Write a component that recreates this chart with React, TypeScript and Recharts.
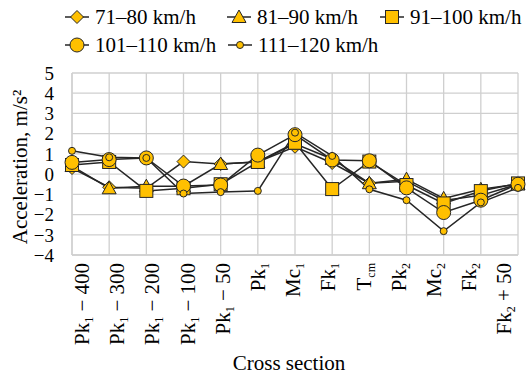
import React from 'react';
import { LineChart, Line, XAxis, YAxis, CartesianGrid } from 'recharts';

const categories = [
  'Pk_{1} − 400', 'Pk_{1} − 300', 'Pk_{1} − 200', 'Pk_{1} − 100', 'Pk_{1} − 50',
  'Pk_{1}', 'Mc_{1}', 'Fk_{1}', 'T_{cm}', 'Pk_{2}', 'Mc_{2}', 'Fk_{2}', 'Fk_{2} + 50',
];
const yTicks = [-4, -3, -2, -1, 0, 1, 2, 3, 4, 5];
const seriesNames = ['71–80 km/h', '81–90 km/h', '91–100 km/h', '101–110 km/h', '111–120 km/h'];
const speed71to80 = [0.3, -0.65, -0.7, 0.62, 0.5, 0.6, 1.35, 0.55, -0.45, -0.35, -1.3, -1.05, -0.5];
const speed81to90 = [0.4, -0.7, -0.6, -0.6, 0.5, 0.6, 1.5, 0.75, -0.45, -0.25, -1.2, -0.75, -0.5];
const speed91to100 = [0.45, 0.6, -0.83, -0.7, -0.5, 0.6, 1.55, -0.74, 0.62, -0.54, -1.45, -0.84, -0.46];
const speed101to110 = [0.58, 0.72, 0.8, -0.59, -0.54, 0.94, 1.95, 0.7, 0.66, -0.68, -1.9, -1.29, -0.5];
const speed111to120 = [1.15, 0.83, 0.8, -0.96, -0.89, -0.83, 2.05, 0.9, -0.75, -1.29, -2.82, -1.4, -0.68];
const markerShapes = ['diamond', 'triangle', 'square', 'circle', 'smallCircle'];

const seriesValues = [speed71to80, speed81to90, speed91to100, speed101to110, speed111to120];
const data = categories.map((cat, i) => {
  const row: any = { cat };
  seriesValues.forEach((vals, s) => { row['s' + s] = vals[i]; });
  return row;
});

const FONT = "'Liberation Serif', 'Tinos', 'Nimbus Roman', 'DejaVu Serif', serif";
const FILL = '#FFC000';
const DARK = '#262626';
const GRID = '#cfcfcf';

function Marker({ shape, cx, cy }: { shape: string; cx: number; cy: number }) {
  const common = { fill: FILL, stroke: DARK, strokeWidth: 1 };
  if (cx == null || cy == null || isNaN(cx) || isNaN(cy)) return null;
  switch (shape) {
    case 'diamond': {
      const r = 6.5;
      return <path d={`M${cx},${cy - r}L${cx + r},${cy}L${cx},${cy + r}L${cx - r},${cy}Z`} {...common} />;
    }
    case 'triangle':
      return <path d={`M${cx},${cy - 7}L${cx + 7},${cy + 5.5}L${cx - 7},${cy + 5.5}Z`} {...common} />;
    case 'square':
      return <rect x={cx - 6.5} y={cy - 6.5} width={13} height={13} {...common} />;
    case 'circle':
      return <circle cx={cx} cy={cy} r={7} {...common} />;
    default:
      return <circle cx={cx} cy={cy} r={3.5} {...common} />;
  }
}

function renderRich(label: string, subSize: number) {
  const parts: any[] = [];
  const re = /_\{([^}]*)\}/g;
  let last = 0;
  let m: RegExpExecArray | null;
  let k = 0;
  let pendingDy = 0;
  while ((m = re.exec(label))) {
    if (m.index > last) {
      parts.push(<tspan key={k++} dy={pendingDy || undefined}>{label.slice(last, m.index)}</tspan>);
      pendingDy = 0;
    }
    parts.push(<tspan key={k++} fontSize={subSize} dy={4 + pendingDy}>{m[1]}</tspan>);
    pendingDy = -4;
    last = m.index + m[0].length;
  }
  if (last < label.length) parts.push(<tspan key={k++} dy={pendingDy || undefined}>{label.slice(last)}</tspan>);
  return parts;
}

function XTick(props: any) {
  const { x, payload } = props;
  const lx = 89 + (x - 72) * (35.2 / 37.17);
  const ly = 263;
  return (
    <text
      transform={`translate(${lx},${ly}) rotate(-90)`}
      textAnchor="end"
      fontSize={21}
      style={{ fontFamily: FONT }}
      fill="#000"
    >
      {renderRich(payload.value, 12)}
    </text>
  );
}

function YTitle() {
  return (
    <text transform="translate(27,167) rotate(-90)" textAnchor="middle" fontSize={21} style={{ fontFamily: FONT }} fill="#000">
      Acceleration, m/s²
    </text>
  );
}

function XTitle() {
  return (
    <text x={289} y={370} textAnchor="middle" fontSize={21} style={{ fontFamily: FONT }} fill="#000">
      Cross section
    </text>
  );
}

function LegendBox() {
  const cols = [65, 227, 380];
  return (
    <div style={{ position: 'absolute', left: 0, top: 0, width: 532, height: 60, fontFamily: FONT, fontSize: 21, color: '#000' }}>
      {seriesNames.map((name, i) => {
        const row = i < 3 ? 0 : 1;
        const col = i % 3;
        const left = row === 1 && col === 1 ? 228 : cols[col];
        const top = row === 0 ? 3 : 31;
        return (
          <div key={name} style={{ position: 'absolute', left, top, height: 28, display: 'flex', alignItems: 'center', whiteSpace: 'nowrap' }}>
            <svg width={24} height={28} style={{ marginRight: 6, overflow: 'visible' }}>
              <line x1={0} y1={14} x2={24} y2={14} stroke={DARK} strokeWidth={1.5} />
              <Marker shape={markerShapes[i]} cx={12} cy={14} />
            </svg>
            <span style={{ lineHeight: '28px' }}>{name}</span>
          </div>
        );
      })}
    </div>
  );
}

export default function App() {
  return (
    <div style={{ position: 'absolute', left: 0, top: 0, width: 532, height: 374, background: '#fff', fontFamily: FONT }}>
      <LineChart width={532} height={374} data={data} margin={{ top: 73, right: 14, bottom: 19, left: 32 }} style={{ fontFamily: FONT }}>
        <CartesianGrid stroke={GRID} strokeWidth={1.3} />
        <XAxis
          dataKey="cat"
          interval={0}
          height={100}
          tickLine={false}
          axisLine={{ stroke: GRID, strokeWidth: 1.3 }}
          tick={<XTick />}
          label={<XTitle />}
        />
        <YAxis
          width={40}
          domain={[-4, 5]}
          ticks={yTicks}
          interval={0}
          tickLine={false}
          tickMargin={12}
          axisLine={{ stroke: GRID, strokeWidth: 1.3 }}
          tick={{ fontSize: 19, fill: '#000', style: { fontFamily: FONT } }}
          tickFormatter={(v: number) => String(v).replace('-', '−')}
          label={<YTitle />}
        />
        {seriesNames.map((name, s) => (
          <Line
            key={name}
            name={name}
            dataKey={'s' + s}
            stroke={DARK}
            strokeWidth={1.5}
            isAnimationActive={false}
            dot={(p: any) => <Marker key={`${s}-${p.index}`} shape={markerShapes[s]} cx={p.cx} cy={p.cy} />}
            activeDot={false}
          />
        ))}
      </LineChart>
      <LegendBox />
    </div>
  );
}
